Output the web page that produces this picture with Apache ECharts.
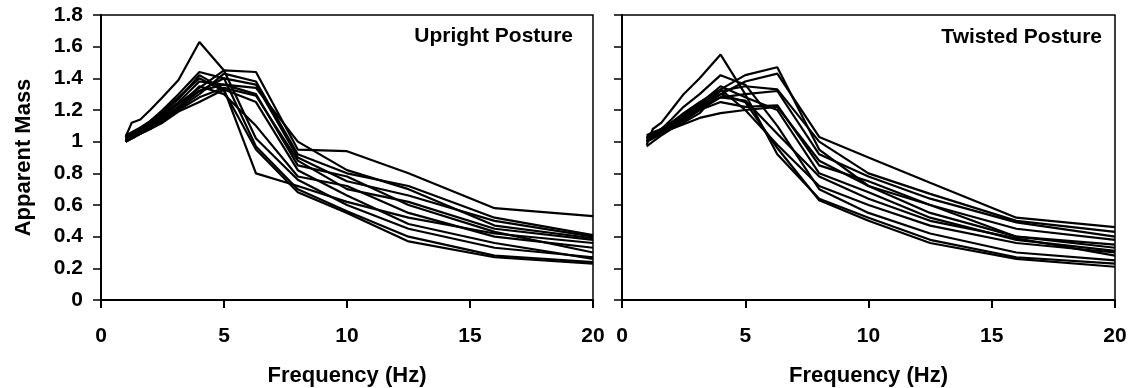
<!DOCTYPE html>
<html>
<head>
<meta charset="utf-8">
<script src="https://cdn.jsdelivr.net/npm/echarts@6/dist/echarts.min.js"></script>
<style>
  html, body { margin: 0; padding: 0; background: #fff; }
  #chart { width: 1145px; height: 388px; }
</style>
</head>
<body>
<div id="chart"></div>
<script>
// One-third-octave centre frequencies (Hz) at which apparent mass was measured
const freqs = [1, 1.25, 1.6, 2, 2.5, 3.15, 4, 5, 6.3, 8, 10, 12.5, 16, 20];

// Normalised apparent mass per subject, upright posture
const upright = [
  [1.03, 1.12, 1.14, 1.20, 1.28, 1.39, 1.63, 1.45, 1.02, 0.76, 0.60, 0.45, 0.33, 0.27],
  [1.00, 1.05, 1.08, 1.13, 1.20, 1.30, 1.44, 1.40, 0.97, 0.70, 0.56, 0.40, 0.28, 0.24],
  [1.02, 1.04, 1.07, 1.12, 1.18, 1.27, 1.42, 1.33, 0.80, 0.72, 0.62, 0.52, 0.42, 0.36],
  [1.01, 1.03, 1.06, 1.10, 1.16, 1.24, 1.34, 1.45, 1.44, 0.95, 0.94, 0.80, 0.58, 0.53],
  [1.00, 1.02, 1.05, 1.09, 1.14, 1.21, 1.30, 1.43, 1.38, 0.92, 0.80, 0.72, 0.52, 0.41],
  [1.02, 1.04, 1.06, 1.10, 1.15, 1.22, 1.32, 1.40, 1.36, 0.90, 0.75, 0.66, 0.50, 0.40],
  [1.03, 1.05, 1.08, 1.12, 1.17, 1.25, 1.38, 1.36, 1.34, 1.00, 0.82, 0.70, 0.47, 0.39],
  [1.00, 1.02, 1.05, 1.08, 1.13, 1.20, 1.28, 1.34, 1.29, 0.88, 0.70, 0.62, 0.45, 0.38],
  [1.01, 1.03, 1.06, 1.09, 1.14, 1.22, 1.35, 1.30, 1.10, 0.78, 0.72, 0.55, 0.40, 0.33],
  [1.04, 1.06, 1.09, 1.13, 1.19, 1.28, 1.40, 1.32, 0.95, 0.68, 0.55, 0.37, 0.27, 0.23],
  [1.02, 1.04, 1.07, 1.11, 1.16, 1.24, 1.32, 1.36, 1.30, 0.85, 0.78, 0.60, 0.43, 0.30],
  [1.01, 1.03, 1.05, 1.08, 1.12, 1.19, 1.25, 1.33, 1.25, 0.82, 0.66, 0.48, 0.36, 0.26]
];

// Normalised apparent mass per subject, twisted posture
const twisted = [
  [0.98, 1.08, 1.12, 1.20, 1.30, 1.40, 1.55, 1.30, 0.92, 0.64, 0.52, 0.38, 0.27, 0.23],
  [1.00, 1.04, 1.08, 1.14, 1.22, 1.30, 1.42, 1.36, 1.10, 0.70, 0.55, 0.42, 0.30, 0.25],
  [1.02, 1.05, 1.08, 1.12, 1.18, 1.25, 1.33, 1.42, 1.47, 0.95, 0.72, 0.60, 0.40, 0.33],
  [1.01, 1.03, 1.06, 1.10, 1.15, 1.22, 1.30, 1.38, 1.43, 1.03, 0.90, 0.74, 0.52, 0.46],
  [1.03, 1.05, 1.07, 1.11, 1.16, 1.23, 1.32, 1.35, 1.33, 1.00, 0.80, 0.67, 0.50, 0.43],
  [1.00, 1.02, 1.05, 1.09, 1.13, 1.20, 1.28, 1.30, 1.32, 0.92, 0.78, 0.64, 0.49, 0.40],
  [1.04, 1.06, 1.08, 1.11, 1.15, 1.20, 1.25, 1.22, 1.23, 0.85, 0.75, 0.60, 0.45, 0.38],
  [0.97, 1.00, 1.04, 1.08, 1.12, 1.18, 1.33, 1.20, 0.98, 0.72, 0.60, 0.47, 0.36, 0.30],
  [1.02, 1.04, 1.06, 1.08, 1.11, 1.15, 1.18, 1.20, 1.22, 0.88, 0.72, 0.55, 0.40, 0.35],
  [1.01, 1.03, 1.05, 1.09, 1.14, 1.21, 1.30, 1.25, 0.96, 0.63, 0.50, 0.36, 0.26, 0.21],
  [1.03, 1.05, 1.08, 1.12, 1.17, 1.24, 1.35, 1.28, 1.20, 0.80, 0.68, 0.52, 0.38, 0.31],
  [1.00, 1.03, 1.06, 1.10, 1.15, 1.22, 1.28, 1.26, 1.05, 0.78, 0.64, 0.50, 0.39, 0.28]
];

const panelTitles = ['Upright Posture', 'Twisted Posture'];
const xTitle = 'Frequency (Hz)';
const yTitle = 'Apparent Mass';

const FONT = '"Liberation Sans", Arial, Helvetica, sans-serif';
const INK = '#000';

function curveSeries(set, axisIndex) {
  return set.map(vals => ({
    type: 'line',
    xAxisIndex: axisIndex,
    yAxisIndex: axisIndex,
    data: vals.map((v, i) => [freqs[i], v]),
    showSymbol: false,
    symbol: 'none',
    silent: true,
    animation: false,
    lineStyle: { color: INK, width: 2.2 }
  }));
}

function xAxisDef(gridIndex) {
  return {
    type: 'value',
    gridIndex,
    min: 0, max: 20, interval: 5,
    name: xTitle,
    nameLocation: 'middle',
    nameGap: 65,
    nameTextStyle: { fontFamily: FONT, fontWeight: 'bold', fontSize: 22, color: INK },
    axisLine: { onZero: false, lineStyle: { color: INK, width: 2 } },
    axisTick: { show: true, inside: false, length: 8, lineStyle: { color: INK, width: 2 } },
    axisLabel: { fontFamily: FONT, fontWeight: 'bold', fontSize: 21, color: INK, margin: 26 },
    splitLine: { show: false }
  };
}

function yAxisDef(gridIndex, withLabels) {
  return {
    type: 'value',
    gridIndex,
    min: 0, max: 1.8, interval: 0.2,
    name: withLabels ? yTitle : '',
    nameLocation: 'middle',
    nameGap: 66,
    nameTextStyle: { fontFamily: FONT, fontWeight: 'bold', fontSize: 22, color: INK },
    axisLine: { lineStyle: { color: INK, width: 2 } },
    axisTick: { show: true, inside: false, length: 8, lineStyle: { color: INK, width: 1.5 } },
    axisLabel: {
      show: withLabels,
      fontFamily: FONT, fontWeight: 'bold', fontSize: 21, color: INK, margin: 18,
      formatter: v => String(Math.round(v * 10) / 10)
    },
    splitLine: { show: false }
  };
}

const chart = echarts.init(document.getElementById('chart'), null, { renderer: 'canvas' });

const gridBase = {
  top: 15, bottom: 88, show: true, borderColor: INK, borderWidth: 1.5,
  backgroundColor: 'transparent', containLabel: false, outerBoundsMode: 'none'
};

chart.setOption({
  backgroundColor: '#fff',
  animation: false,
  grid: [
    Object.assign({ left: 101, right: 552 }, gridBase),
    Object.assign({ left: 622, right: 30 }, gridBase)
  ],
  xAxis: [xAxisDef(0), xAxisDef(1)],
  yAxis: [yAxisDef(0, true), yAxisDef(1, false)],
  graphic: [
    {
      type: 'text', right: 1145 - 573, top: 26,
      style: { text: panelTitles[0], fontFamily: FONT, fontWeight: 'bold', fontSize: 21, fill: INK }
    },
    {
      type: 'text', right: 1145 - 1102, top: 27,
      style: { text: panelTitles[1], fontFamily: FONT, fontWeight: 'bold', fontSize: 21, fill: INK }
    }
  ],
  series: [...curveSeries(upright, 0), ...curveSeries(twisted, 1)]
});
</script>
</body>
</html>
